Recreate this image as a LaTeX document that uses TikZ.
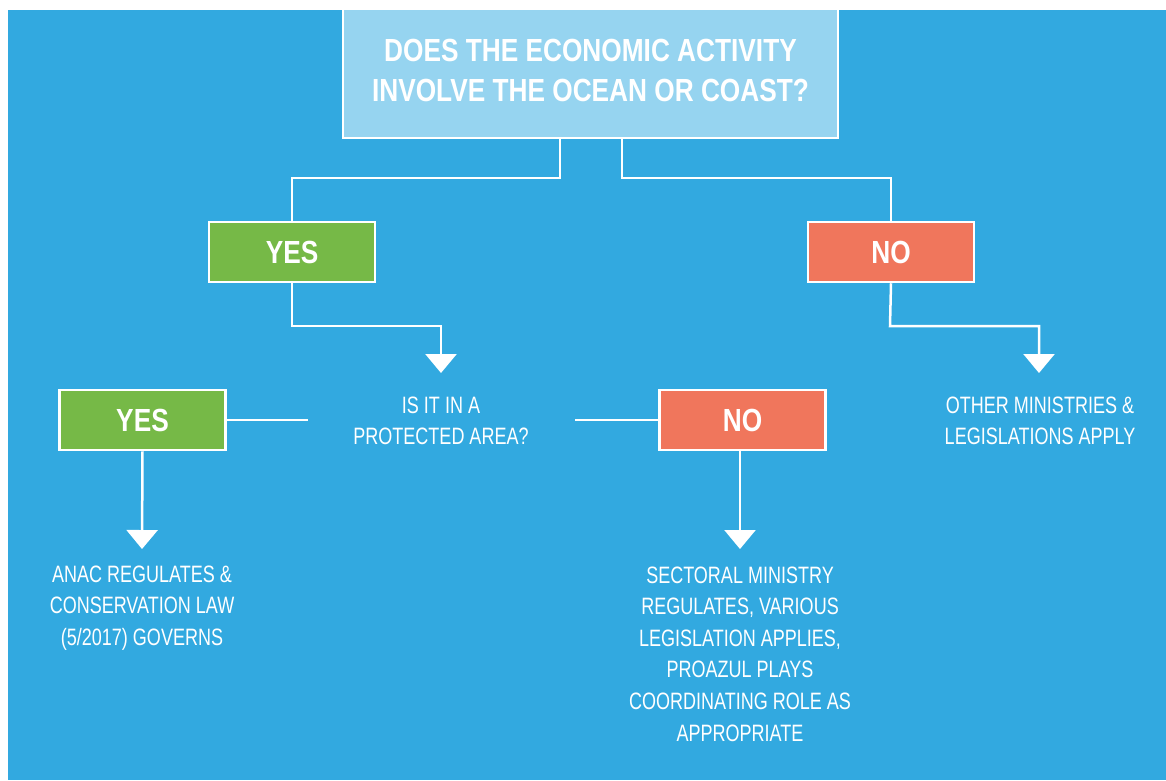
\documentclass[tikz,border=0pt]{standalone}
\usepackage{fontspec}
\usetikzlibrary{arrows.meta}
\newfontfamily\condreg[FakeStretch=0.76]{Liberation Sans}
\newfontfamily\condbold[FakeStretch=0.82]{Liberation Sans Bold}
\definecolor{bgblue}{HTML}{32A9E0}
\definecolor{lightblue}{HTML}{96D4F0}
\definecolor{yesgreen}{HTML}{76B947}
\definecolor{nored}{HTML}{F0765C}
\tikzset{
  box/.style={draw=white, line width=2.5pt, minimum width=166pt, minimum height=60pt,
    inner sep=0pt, text=white, font=\condbold\fontsize{32}{40}\selectfont},
  yesbox/.style={box, fill=yesgreen},
  nobox/.style={box, fill=nored},
  titlebox/.style={draw=white, line width=2.5pt, fill=lightblue, minimum width=495pt,
    minimum height=136pt, inner sep=0pt, text=white, align=center,
    font=\condbold\fontsize{32}{40}\selectfont},
  bodytext/.style={text=white, align=center, inner sep=0pt,
    font=\condreg\fontsize{23.7}{31.6}\selectfont},
  conn/.style={draw=white, line width=2.5pt},
  arr/.style={conn, -{Triangle[width=31pt,length=19pt]}}
}
\begin{document}
\begin{tikzpicture}[x=1pt,y=-1pt]
\useasboundingbox (0,0) rectangle (1166,780);
\fill[bgblue] (8,10) rectangle (1166,780);
\begin{scope}
\clip (8,10) rectangle (1166,780);
\node[titlebox] (title) at (590.5,70) {DOES THE ECONOMIC ACTIVITY\\INVOLVE THE OCEAN OR COAST?};
\end{scope}
\node[yesbox] (yes1) at (292,252) {YES};
\node[nobox] (no1) at (891,252) {NO};
\node[yesbox] (yes2) at (142.5,420) {YES};
\node[nobox] (no2) at (742.5,420) {NO};
\node[bodytext] (q) at (441,421) {IS IT IN A\\PROTECTED AREA?};
\node[bodytext] (other) at (1040,421) {OTHER MINISTRIES \&\\LEGISLATIONS APPLY};
\node[bodytext] (anac) at (142,608) {ANAC REGULATES \&\\CONSERVATION LAW\\(5/2017) GOVERNS};
\node[bodytext] (sect) at (740,654) {SECTORAL MINISTRY\\REGULATES, VARIOUS\\LEGISLATION APPLIES,\\PROAZUL PLAYS\\COORDINATING ROLE AS\\APPROPRIATE};
\coordinate (qtop) at (441,373);
\coordinate (othertop) at (1039,373);
\coordinate (anactop) at (142,549);
\coordinate (secttop) at (740,549);
\coordinate (qw) at (308,420);
\coordinate (qe) at (575,420);
\draw[conn] ([xshift=-30.5pt]title.south) -- (560,178) -| (yes1.north);
\draw[conn] ([xshift=31.5pt]title.south) -- (622,178) -| (no1.north);
\draw[arr] (yes1.south) -- (292,326) -| (qtop);
\draw[arr] (no1.south) -- (890,326) -| (othertop);
\draw[conn] (yes2.east) -- (qw);
\draw[conn] (qe) -- (no2.west);
\draw[arr] (yes2.south) -- (anactop);
\draw[arr] (no2.south -| secttop) -- (secttop);
\end{tikzpicture}
\end{document}
